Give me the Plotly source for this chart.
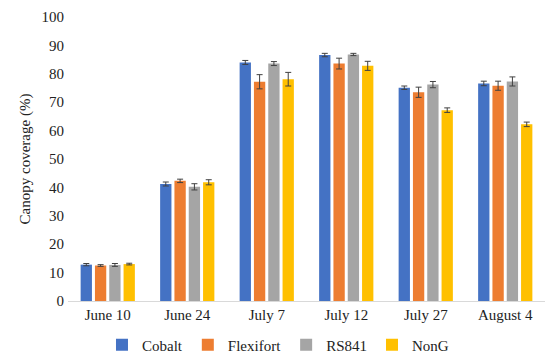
import plotly.graph_objects as go

dates = ["June 10", "June 24", "July 7", "July 12", "July 27", "August 4"]
series_names = ["Cobalt", "Flexifort", "RS841", "NonG"]
colors = ["#4472C4", "#ED7D31", "#A5A5A5", "#FFC000"]

cobalt = [12.8, 41.2, 84.0, 86.6, 75.1, 76.6]
flexifort = [12.5, 42.3, 77.2, 83.6, 73.5, 75.8]
rs841 = [12.7, 40.2, 83.6, 86.8, 76.2, 77.3]
nong = [13.0, 41.8, 78.1, 82.8, 67.2, 62.2]

cobalt_err = [0.4, 0.7, 0.7, 0.6, 0.6, 0.8]
flexifort_err = [0.3, 0.6, 2.5, 1.9, 1.8, 1.6]
rs841_err = [0.5, 1.1, 0.7, 0.4, 1.1, 1.6]
nong_err = [0.3, 0.9, 2.4, 1.6, 0.8, 0.8]

values = [cobalt, flexifort, rs841, nong]
errors = [cobalt_err, flexifort_err, rs841_err, nong_err]

font = "Liberation Serif"

fig = go.Figure()
for name, col, v, e in zip(series_names, colors, values, errors):
    fig.add_trace(go.Bar(
        x=dates, y=v, name=name, marker_color=col, marker_line_width=0,
        error_y=dict(type="data", array=e, visible=True, color="#404040",
                     thickness=1, width=3),
    ))

fig.update_layout(
    width=551, height=355,
    margin=dict(l=60, r=14, t=9, b=62, autoexpand=False),
    plot_bgcolor="white", paper_bgcolor="white",
    barmode="group", bargap=0.28, bargroupgap=0.21,
    font=dict(family=font, size=15, color="#222222"),
    showlegend=True,
    legend=dict(orientation="h", xref="container", yref="container",
                x=0.49, xanchor="center", y=0.051, yanchor="middle",
                font=dict(family=font, size=15, color="#222222"),
                itemwidth=30, tracegroupgap=0),
    xaxis=dict(showline=True, linecolor="#D9D9D9", linewidth=1, ticks="",
               showgrid=False, automargin=False, tickfont=dict(family=font, size=15)),
    yaxis=dict(range=[0, 100], dtick=10, showgrid=False, zeroline=False,
               showline=False, ticks="", automargin=False, ticklabelstandoff=3,
               ticklabeloverflow="allow",
               tickfont=dict(family=font, size=15),
               title=dict(text="Canopy coverage (%)", font=dict(family=font, size=15),
                          standoff=7)),
)

fig.write_html("out.html")
